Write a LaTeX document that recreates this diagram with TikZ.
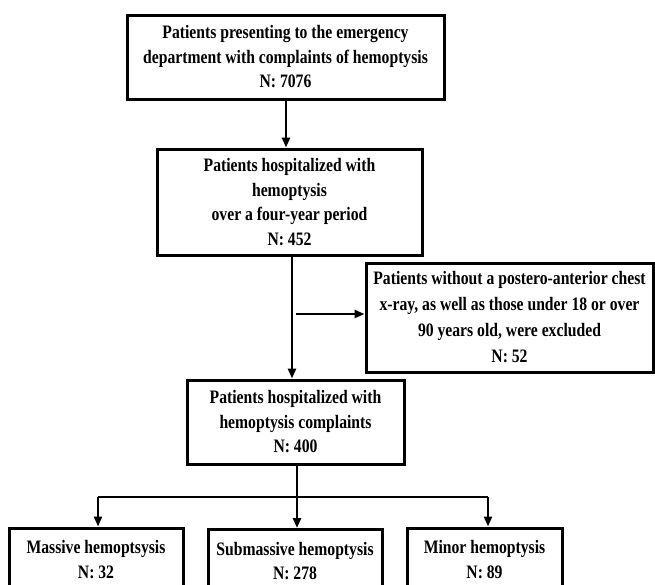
\documentclass[tikz,border=0pt]{standalone}
\usepackage{fontspec}
\setmainfont{Liberation Serif}[FakeStretch=0.825]
\usetikzlibrary{arrows.meta}
\begin{document}
\begin{tikzpicture}[x=1pt,y=-1pt,
  box/.style={draw=black, line width=3pt, inner sep=0pt, align=center,
    font=\bfseries\fontsize{19}{24.5}\selectfont},
  arr/.style={line width=2.5pt, -{Triangle[length=10pt,width=8pt]}},
  ln/.style={line width=2.5pt}]
\useasboundingbox (0,0) rectangle (655,584);
\clip (0,0) rectangle (655,584);
\node[box, minimum width=317, minimum height=84] (b1) at (285.5,57)
  {Patients presenting to the emergency\\department with complaints of hemoptysis\\N: 7076};
\node[box, minimum width=265, minimum height=106] (b2) at (289.5,202)
  {Patients hospitalized with\\hemoptysis\\over a four-year period\\N: 452};
\node[box, minimum width=287, minimum height=109, font=\bfseries\fontsize{19}{26}\selectfont] (b3) at (509.5,317.5)
  {Patients without a postero-anterior chest\\x-ray, as well as those under 18 or over\\90 years old, were excluded\\N: 52};
\node[box, minimum width=217, minimum height=84] (b4) at (295.5,422)
  {Patients hospitalized with\\hemoptysis complaints\\N: 400};
\node[box, minimum width=174, minimum height=63] (b5) at (96,559.5)
  {Massive hemoptsysis\\N: 32};
\node[box, minimum width=174, minimum height=63] (b6) at (295,561)
  {Submassive hemoptysis\\N: 278};
\node[box, minimum width=155, minimum height=63] (b7) at (484.5,559.5)
  {Minor hemoptysis\\N: 89};
\coordinate (split) at (297,497);
\coordinate (exstart) at (296,314);
\draw[arr] (b1.south -| 286,0) -- (b2.north -| 286,0);
\draw[arr] (b2.south -| 292,0) -- (b4.north -| 292,0);
\draw[arr] (exstart) -- (exstart -| b3.west);
\draw[ln] (b4.south -| split) -- (split);
\draw[ln] (split -| 98,0) -- (split -| 488,0);
\draw[arr] (split -| 98,0) -- (b5.north -| 98,0);
\draw[arr] (split) -- (b6.north -| split);
\draw[arr] (split -| 488,0) -- (b7.north -| 488,0);
\end{tikzpicture}
\end{document}
